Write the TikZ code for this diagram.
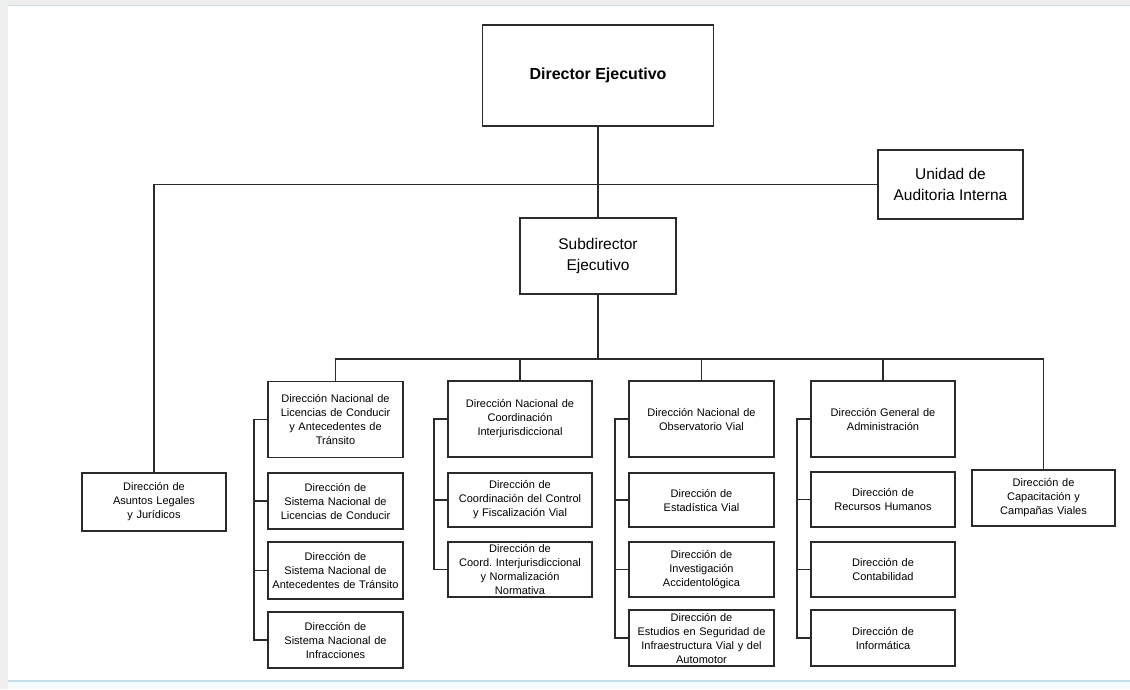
\documentclass[tikz,border=0pt]{standalone}
\usepackage{fontspec}
\setmainfont{Liberation Sans}
\frenchspacing

\definecolor{linegray}{HTML}{2A2A2A}
\definecolor{frameblue}{HTML}{C9DDE6}
\definecolor{sidegray}{HTML}{EFEFEF}
\definecolor{footblue}{HTML}{F5FAFC}

\begin{document}
\begin{tikzpicture}[
        %We work in pixels of the scan, y going down
        x=1pt, y=-1pt,
        conn/.style={line width=1.2pt, draw=linegray},
        unit/.style={draw=linegray, line width=1.2pt, align=center, inner sep=0pt, text=black},
        boxsize/.style 2 args={minimum width=#1pt, minimum height=#2pt},
        small unit/.style={unit, font=\fontsize{11}{14}\selectfont, text width=133pt},
        big unit/.style={unit, font=\fontsize{15.5}{20.5}\selectfont},
        every node/.style={color=black,}
     ]
    \useasboundingbox (0,0) rectangle (1130,689);
    % page frame of the screenshot
    \fill[sidegray] (0,0) rectangle (1130,689);
    \fill[white] (8,6) rectangle (1130,681);
    \fill[footblue] (8,681) rectangle (1130,689);
    \draw[frameblue, line width=1.2pt] (8,5.5) -- (1130,5.5);
    \draw[frameblue, line width=1.2pt] (8,681) -- (1130,681);

    % top of the chart
    \node[unit, font=\bfseries\fontsize{16}{19}\selectfont, boxsize={231}{101}] (dir) at (598,75.5) {Director Ejecutivo};
    \node[big unit, boxsize={145}{69}] (aud) at (950.5,184.5) {Unidad de\\Auditoria Interna};
    \node[big unit, boxsize={156}{76}] (sub) at (598,256) {Subdirector\\Ejecutivo};

    % units hanging alone
    \node[small unit, boxsize={144}{58}] (leg) at (154,502) {Dirección de\\Asuntos Legales\\y Jurídicos};
    \node[small unit, boxsize={143}{56}] (cap) at (1043.5,498) {Dirección de\\Capacitación y\\Campañas Viales};

    % Licencias
    \node[small unit, boxsize={135}{76}] (lic1) at (335.5,419.5) {Dirección Nacional de\\Licencias de Conducir\\y Antecedentes de\\Tránsito};
    \node[small unit, boxsize={135}{56}] (lic2) at (335.5,501) {Dirección de\\Sistema Nacional de\\Licencias de Conducir};
    \node[small unit, boxsize={135}{57}] (lic3) at (335.5,570.5) {Dirección de\\Sistema Nacional de\\Antecedentes de Tránsito};
    \node[small unit, boxsize={135}{56}] (lic4) at (335.5,640) {Dirección de\\Sistema Nacional de\\Infracciones};

    % Coordinacion
    \node[small unit, boxsize={144}{76}] (coo1) at (520,419) {Dirección Nacional de\\Coordinación\\Interjurisdiccional};
    \node[small unit, boxsize={144}{54}] (coo2) at (520,500) {Dirección de\\Coordinación del Control\\y Fiscalización Vial};
    \node[small unit, boxsize={144}{55}] (coo3) at (520,569.5) {Dirección de\\Coord. Interjurisdiccional\\y Normalización\\Normativa};

    % Observatorio
    \node[small unit, boxsize={145}{76}] (obs1) at (701.5,419) {Dirección Nacional de\\Observatorio Vial};
    \node[small unit, boxsize={145}{54}] (obs2) at (701.5,500) {Dirección de\\Estadística Vial};
    \node[small unit, boxsize={145}{55}] (obs3) at (701.5,569.5) {Dirección de\\Investigación\\Accidentológica};
    \node[small unit, boxsize={145}{56}] (obs4) at (701.5,638) {Dirección de\\Estudios en Seguridad de\\Infraestructura Vial y del\\Automotor};

    % Administracion
    \node[small unit, boxsize={144}{76}] (adm1) at (883,419) {Dirección General de\\Administración};
    \node[small unit, boxsize={144}{55}] (adm2) at (883,499.5) {Dirección de\\Recursos Humanos};
    \node[small unit, boxsize={144}{55}] (adm3) at (883,569.5) {Dirección de\\Contabilidad};
    \node[small unit, boxsize={144}{56}] (adm4) at (883,638) {Dirección de\\Informática};

    % lines
    \draw[conn] (dir) -- (sub);
    \draw[conn] (leg.north) |- (aud.west);
    \coordinate (bus) at (598,359);
    \draw[conn] (sub) -- (bus);
    \foreach \n in {lic1,coo1,obs1,adm1,cap}
        \draw[conn] (bus) -| (\n.north);
    % brackets down the left of each column
    \foreach \col/\last in {lic/4,coo/3,obs/4,adm/4}{
        \draw[conn] (\col1.west) -- ++(-13.5,0) |- (\col\last.west);
        \foreach \i in {2,...,\last}
            \draw[conn] (\col\i.west) -- ++(-13.5,0);
    }
\end{tikzpicture}
\end{document}
